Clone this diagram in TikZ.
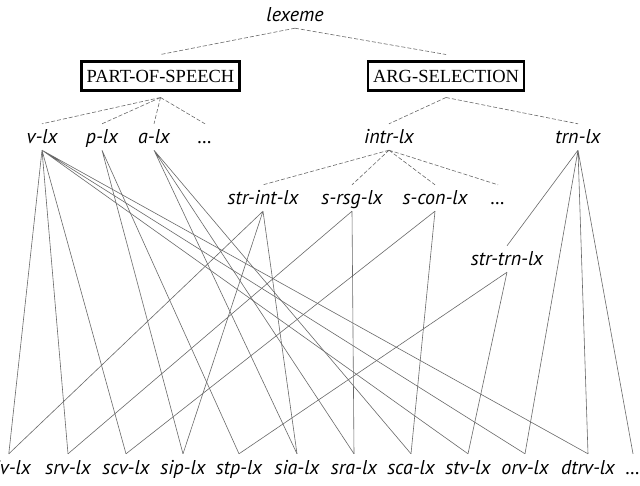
\documentclass[tikz,border=0pt]{standalone}
\usepackage{fontspec}
\setmainfont{Liberation Serif}
\newfontfamily\lxfont{PT Sans}
\usepackage{tikz}
\usetikzlibrary{positioning}
\definecolor{lxgray}{RGB}{105,105,105}

\tikzset{
  lx/.style={font=\lxfont\itshape\fontsize{20}{24}\selectfont, anchor=base,
             text height=14pt, text depth=0pt, inner ysep=6pt, inner xsep=1pt},
  partbox/.style={draw, line width=2.4pt, font=\fontsize{18.5}{21}\selectfont,
                  minimum width=156pt, minimum height=29pt, inner xsep=5pt, outer sep=7pt},
  isa/.style={lxgray, line width=0.6pt},
  isadash/.style={isa, dash pattern=on 4pt off 2pt}
}

\begin{document}
\begin{tikzpicture}[x=1pt, y=-1pt]
\useasboundingbox (0,0) rectangle (640,486);
\fill[white] (0,0) rectangle (640,486);

% === Root and partitions ===
\node[lx] (lexeme) at (295,22) {lexeme};
\node[partbox] (pos) at (160.5,76) {PART-OF-SPEECH};
\node[partbox] (arg) at (446,76) {ARG-SELECTION};

% === Row 2 ===
\node[lx] (vlx)   at (42,144)  {v-lx};
\node[lx] (plx)   at (102,144) {p-lx};
\node[lx] (alx)   at (154,144) {a-lx};
\node[lx] (pdots) at (205,144) {\ldots};
\node[lx] (intr)  at (389,144) {intr-lx};
\node[lx] (trn)   at (578,144) {trn-lx};

% === Row 3 ===
\node[lx] (strint) at (263,205) {str-int-lx};
\node[lx] (srsg)   at (352,205) {s-rsg-lx};
\node[lx] (scon)   at (435,205) {s-con-lx};
\node[lx] (idots)  at (498,205) {\ldots};
\node[lx] (strtrn) at (507,266) {str-trn-lx};

% === Bottom row ===
\node[lx, anchor=base east] (siv) at (32,474) {siv-lx};
\node[lx] (srv)   at (68,474)  {srv-lx};
\node[lx] (scv)   at (126,474) {scv-lx};
\node[lx] (sip)   at (183,474) {sip-lx};
\node[lx] (stp)   at (239,474) {stp-lx};
\node[lx] (sia)   at (297,474) {sia-lx};
\node[lx] (sra)   at (354,474) {sra-lx};
\node[lx] (sca)   at (411,474) {sca-lx};
\node[lx] (stv)   at (468,474) {stv-lx};
\node[lx] (orv)   at (525,474) {orv-lx};
\node[lx] (dtrv)  at (588,474) {dtrv-lx};
\node[lx] (bdots) at (633,474) {\ldots};

% === Upper links ===
\draw[isadash] (lexeme.south) -- (pos.north) (lexeme.south) -- (arg.north);
\draw[isadash] (pos.south) -- (vlx.north) (pos.south) -- (plx.north)
               (pos.south) -- (alx.north) (pos.south) -- (pdots.north);
\draw[isadash] (arg.south) -- (intr.north) (arg.south) -- (trn.north);
\draw[isadash] (intr.south) -- (strint.north) (intr.south) -- (srsg.north)
               (intr.south) -- (scon.north) (intr.south) -- (idots.north);
\draw[isa] (trn.south) -- (strtrn.north) (trn.south) -- (orv.north)
           (trn.south) -- (dtrv.north) (trn.south) -- (bdots.north);

% === Part-of-speech links ===
\draw[isa] (vlx.south) -- (siv.north) (vlx.south) -- (srv.north)
           (vlx.south) -- (scv.north) (vlx.south) -- (stv.north)
           (vlx.south) -- (orv.north) (vlx.south) -- (dtrv.north);
\draw[isa] (plx.south) -- (sip.north) (plx.south) -- (stp.north);
\draw[isa] (alx.south) -- (sia.north) (alx.south) -- (sra.north)
           (alx.south) -- (sca.north);

% === Argument links ===
\draw[isa] (strint.south) -- (siv.north) (strint.south) -- (sip.north)
           (strint.south) -- (sia.north);
\draw[isa] (srsg.south) -- (srv.north) (srsg.south) -- (sra.north);
\draw[isa] (scon.south) -- (scv.north) (scon.south) -- (sca.north);
\draw[isa] (strtrn.south) -- (stp.north) (strtrn.south) -- (stv.north);

\end{tikzpicture}
\end{document}
